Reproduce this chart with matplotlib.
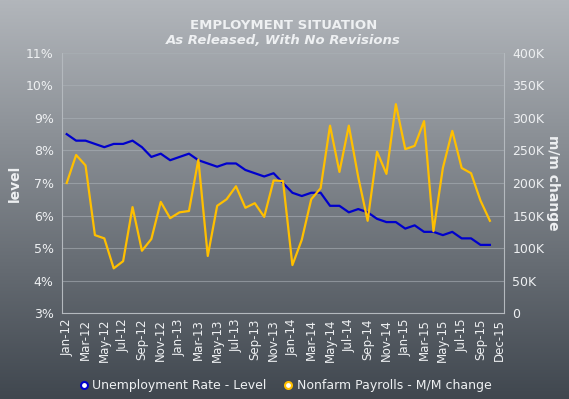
import numpy as np
import matplotlib
matplotlib.use('Agg')
from matplotlib import pyplot as plt
from matplotlib.lines import Line2D

# 数据
unemployment = [8.5, 8.3, 8.3, 8.2, 8.1, 8.2, 8.2, 8.3, 8.1, 7.8, 7.9, 7.7,
                7.8, 7.9, 7.7, 7.6, 7.5, 7.6, 7.6, 7.4, 7.3, 7.2, 7.3, 7.0,
                6.7, 6.6, 6.7, 6.7, 6.3, 6.3, 6.1, 6.2, 6.1, 5.9, 5.8, 5.8,
                5.6, 5.7, 5.5, 5.5, 5.4, 5.5, 5.3, 5.3, 5.1, 5.1]
payrolls = [200, 243, 227, 120, 115, 69, 80, 163, 96, 114, 171, 146,
            155, 157, 236, 88, 165, 175, 195, 162, 169, 148, 204, 203,
            74, 113, 175, 192, 288, 217, 288, 209, 142, 248, 214, 321,
            252, 257, 295, 126, 223, 280, 223, 215, 173, 142]
tick_labels = ['Jan-12', 'Mar-12', 'May-12', 'Jul-12', 'Sep-12', 'Nov-12',
               'Jan-13', 'Mar-13', 'May-13', 'Jul-13', 'Sep-13', 'Nov-13',
               'Jan-14', 'Mar-14', 'May-14', 'Jul-14', 'Sep-14', 'Nov-14',
               'Jan-15', 'Mar-15', 'May-15', 'Jul-15', 'Sep-15', 'Dec-15']
n_categories = 47

blue = '#0000cc'
yellow = '#ffbf00'
txt = '#eef0f2'
grid_c = '#aab0b6'

fig = plt.figure(figsize=(5.69, 3.99), dpi=100)

# 渐变背景
bg = fig.add_axes([0, 0, 1, 1], zorder=-10)
top_c = np.array([0xb2, 0xb6, 0xbb]) / 255
bot_c = np.array([0x40, 0x47, 0x4f]) / 255
t = np.linspace(0, 1, 256)[:, None]
grad = top_c[None, :] * (1 - t) + bot_c[None, :] * t
bg.imshow(grad[:, None, :], aspect='auto', extent=[0, 1, 0, 1])
bg.axis('off')

ax = fig.add_axes([62 / 569, 1 - 313.3 / 399, 442 / 569, 260.6 / 399])
ax.patch.set_alpha(0)
x = np.arange(len(unemployment))
ax.plot(x, unemployment, color=blue, linewidth=1.6, zorder=3)
ax.set_ylim(3, 11)
ax.set_yticks(range(3, 12))
ax.set_yticklabels(['%d%%' % v for v in range(3, 12)])
ax.set_xlim(-0.5, n_categories - 0.5)
tick_pos = list(range(0, 45, 2)) + [46]
ax.set_xticks(tick_pos)
ax.set_xticklabels(tick_labels, rotation=90)
ax.grid(axis='y', color=grid_c, linewidth=0.8, alpha=0.6)
ax.set_axisbelow(True)
ax.tick_params(axis='both', length=0, colors=txt, labelsize=9)
ax.tick_params(axis='x', labelsize=8.5, pad=4)
ax.tick_params(axis='y', pad=6)
for s in ['left', 'bottom', 'right']:
    ax.spines[s].set_color('#b4b9be')
    ax.spines[s].set_linewidth(0.8)
ax.spines['top'].set_visible(False)
ax.set_ylabel('level', color=txt, fontsize=10, fontweight='bold', va='center')
ax.yaxis.set_label_coords(-0.106, 0.5)

ax2 = ax.twinx()
ax2.plot(x, payrolls, color=yellow, linewidth=1.6, zorder=3)
ax2.set_ylim(0, 400)
ax2.set_yticks(range(0, 401, 50))
ax2.set_yticklabels(['0'] + ['%dK' % v for v in range(50, 401, 50)])
ax2.tick_params(axis='y', length=0, colors=txt, labelsize=9, pad=6)
for s in ax2.spines.values():
    s.set_visible(False)
ax2.set_ylabel('m/m change', color=txt, fontsize=10, fontweight='bold',
               rotation=270, va='center')
ax2.yaxis.set_label_coords(1.111, 0.5)

fig.text(0.498, 0.937, 'EMPLOYMENT SITUATION', color=txt, fontsize=9.5,
         fontweight='bold', ha='center', va='center')
fig.text(0.498, 0.898, 'As Released, With No Revisions', color=txt,
         fontsize=9.5, fontweight='bold', style='italic', ha='center', va='center')

handles = [Line2D([], [], linestyle='none', marker='o', markersize=5,
                  markerfacecolor='white', markeredgecolor=blue, markeredgewidth=1.5),
           Line2D([], [], linestyle='none', marker='o', markersize=5,
                  markerfacecolor='white', markeredgecolor=yellow, markeredgewidth=1.5)]
leg = fig.legend(handles, ['Unemployment Rate - Level', 'Nonfarm Payrolls - M/M change'],
                 loc='center', bbox_to_anchor=(0.5, 1 - 386 / 399), ncol=2,
                 frameon=False, fontsize=9, handletextpad=0.2, columnspacing=1.2,
                 handlelength=1.0)
for tx in leg.get_texts():
    tx.set_color(txt)

fig.savefig('out.png', dpi=100)
